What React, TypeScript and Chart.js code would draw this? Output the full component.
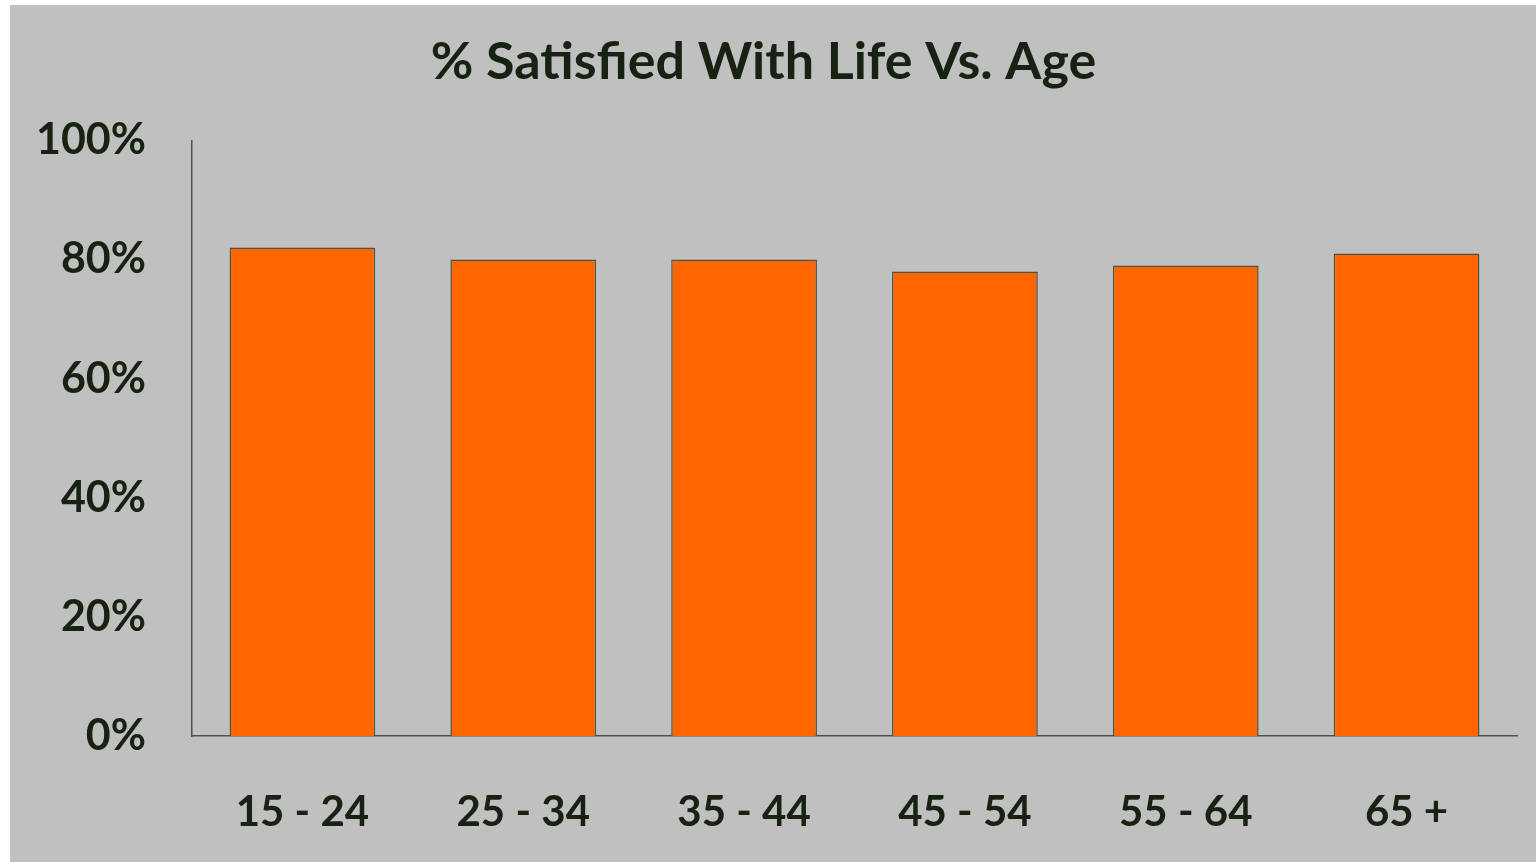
import React, { useEffect, useRef } from "react";
import { Chart, registerables } from "chart.js";

Chart.register(...registerables);

const categories = ["15 - 24", "25 - 34", "35 - 44", "45 - 54", "55 - 64", "65 +"];
const satisfiedPct = [82, 80, 80, 78, 79, 81];
const yTicks = [0, 20, 40, 60, 80, 100];
const titleText = "% Satisfied With Life Vs. Age";

const TEXT = "#172212";
const AXIS = "#4a5347";
const BAR = "#ff6600";
const BG = "#c0c0c0";
const FONT = "Lato, 'Open Sans', sans-serif";

export default function App() {
  const ref = useRef<HTMLCanvasElement | null>(null);

  useEffect(() => {
    if (!ref.current) return;
    const chart = new Chart(ref.current, {
      type: "bar",
      data: {
        labels: categories,
        datasets: [
          {
            data: satisfiedPct,
            backgroundColor: BAR,
            borderColor: AXIS,
            borderWidth: 1.5,
            barPercentage: 0.66,
            categoryPercentage: 1,
          },
        ],
      },
      options: {
        responsive: false,
        animation: false,
        layout: { padding: { top: 0, right: 19, bottom: 0, left: 0 } },
        plugins: {
          legend: { display: false },
          tooltip: { enabled: false },
          title: {
            display: true,
            text: titleText,
            color: TEXT,
            font: { family: FONT, size: 52, weight: "bold" },
            padding: { top: 26, bottom: 47 },
          },
        },
        scales: {
          x: {
            grid: { display: false, drawTicks: false },
            border: { display: true, color: AXIS, width: 1.5 },
            ticks: {
              color: TEXT,
              font: { family: FONT, size: 42, weight: "bold" },
              padding: 51,
              maxRotation: 0,
            },
            afterFit: (s: any) => {
              s.height = 126;
            },
          },
          y: {
            min: 0,
            max: 100,
            afterBuildTicks: (s: any) => {
              s.ticks = yTicks.map((v) => ({ value: v }));
            },
            grid: { display: false, drawTicks: false },
            border: { display: true, color: AXIS, width: 1.5 },
            ticks: {
              color: TEXT,
              font: { family: FONT, size: 43, weight: "bold" },
              padding: 46,
              callback: (v: any) => v + "%",
            },
            afterFit: (s: any) => {
              s.width = 182;
            },
          },
        },
      },
    });
    return () => chart.destroy();
  }, []);

  return (
    <div
      style={{
        position: "fixed",
        left: 10,
        top: 5,
        width: 1526,
        height: 857,
        background: BG,
      }}
    >
      <canvas ref={ref} width={1526} height={857} style={{ display: "block" }} />
    </div>
  );
}
